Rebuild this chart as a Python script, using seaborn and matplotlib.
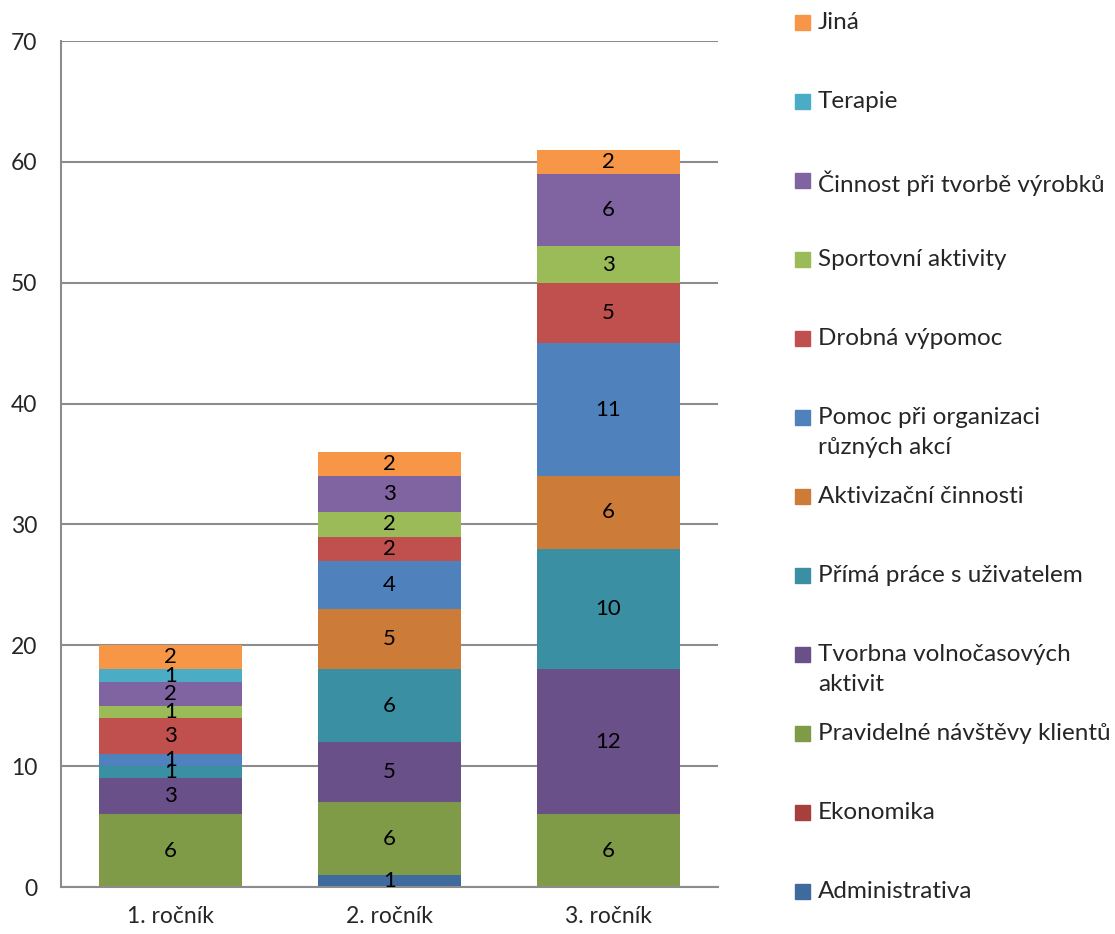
import numpy as np
import seaborn as sns
import matplotlib.pyplot as plt
from matplotlib.patches import Rectangle

years = ["1. ročník", "2. ročník", "3. ročník"]

# bottom -> top of the stack
categories = [
    "Administrativa",
    "Ekonomika",
    "Pravidelné návštěvy klientů",
    "Tvorbna volnočasových\naktivit",
    "Přímá práce s uživatelem",
    "Aktivizační činnosti",
    "Pomoc při organizaci\nrůzných akcí",
    "Drobná výpomoc",
    "Sportovní aktivity",
    "Činnost při tvorbě výrobků",
    "Terapie",
    "Jiná",
]
administrativa = [0, 1, 0]
ekonomika = [0, 0, 0]
pravidelne = [6, 6, 6]
tvorbna = [3, 5, 12]
prima_prace = [1, 6, 10]
aktivizacni = [0, 5, 6]
pomoc = [1, 4, 11]
drobna = [3, 2, 5]
sportovni = [1, 2, 3]
cinnost = [2, 3, 6]
terapie = [1, 0, 0]
jina = [2, 2, 2]

series = [administrativa, ekonomika, pravidelne, tvorbna, prima_prace, aktivizacni,
          pomoc, drobna, sportovni, cinnost, terapie, jina]
colors = ["#3F6A9E", "#A5403D", "#7F9B48", "#6A5089", "#3A8FA3", "#CD7B38",
          "#4F81BD", "#C0504D", "#9BBB59", "#8064A2", "#4BACC6", "#F79646"]

sns.set_style("white")
plt.rcParams["font.family"] = ["Lato", "DejaVu Sans"]

fig = plt.figure(figsize=(11.15, 9.34), dpi=100)
ax = fig.add_axes([61 / 1115, 47 / 934, 657 / 1115, 846 / 934])

bottom = np.zeros(len(years))
for vals, col in zip(series, colors):
    vals = np.array(vals, dtype=float)
    sns.barplot(x=years, y=vals, bottom=bottom, color=col, saturation=1,
                width=0.65, ax=ax, linewidth=0)
    bottom += vals

for cont in ax.containers:
    labels = ["" if b.get_height() == 0 else f"{int(b.get_height())}" for b in cont]
    ax.bar_label(cont, labels=labels, label_type="center", fontsize=16, color="black")

ax.set_ylim(0, 70)
ax.set_xlim(-0.5, 2.5)
ax.set_yticks(range(0, 71, 10))
ax.yaxis.grid(True, color="#8C8C8C", linewidth=1.5)
ax.set_axisbelow(True)
for s in ["top", "right"]:
    ax.spines[s].set_visible(False)
for s in ["left", "bottom"]:
    ax.spines[s].set_color("#8C8C8C")
    ax.spines[s].set_linewidth(1.5)
ax.tick_params(axis="y", length=0, pad=17, labelsize=16.5)
ax.tick_params(axis="x", length=0, pad=14, labelsize=16.5)
ax.set_xlabel("")
ax.set_ylabel("")

# legend, top entry first, evenly spaced like the original
for i, (lab, col) in enumerate(zip(categories[::-1], colors[::-1])):
    y = 1 - (22 + 79 * i) / 934
    fig.add_artist(Rectangle((795 / 1115, y - 8 / 934), 15 / 1115, 15 / 934,
                             transform=fig.transFigure, color=col))
    fig.text(818 / 1115, y + 10 / 934, lab, fontsize=17.5, va="top", ha="left",
             linespacing=1.55)

fig.savefig("out.png", dpi=100)
